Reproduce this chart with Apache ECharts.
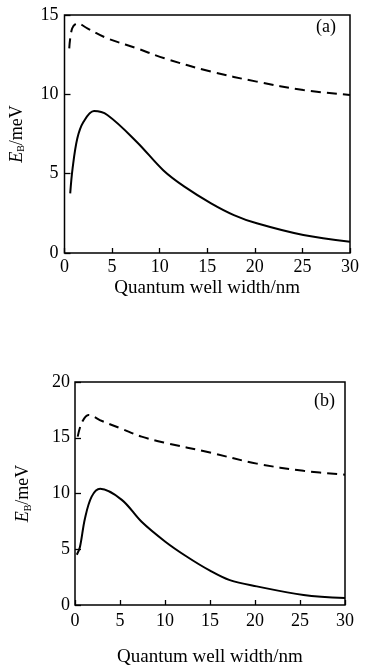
<!DOCTYPE html>
<html><head><meta charset="utf-8">
<script src="https://cdn.jsdelivr.net/npm/echarts@6/dist/echarts.min.js"></script>
<style>html,body{margin:0;padding:0;background:#fff}#c{width:369px;height:668px}</style>
</head><body><div id="c"></div>
<script>
// Panel (a)
const aDashX = [0.5, 0.8, 1.35, 2.4, 4.5, 7.6, 10.5, 15.4, 20.2, 25.1, 30];
const aDashY = [12.9, 14.15, 14.47, 14.16, 13.53, 12.9, 12.27, 11.43, 10.8, 10.27, 9.96];
const aSolidX = [0.6, 0.85, 1.35, 2.0, 3.1, 4.5, 7.6, 10.4, 12.6, 15.4, 17.8, 20.2, 25.1, 30];
const aSolidY = [3.76, 5.34, 7.23, 8.27, 8.95, 8.7, 7.0, 5.2, 4.18, 3.13, 2.39, 1.87, 1.13, 0.71];
// Panel (b)
const bDashX = [0.3, 0.75, 1.5, 3.0, 5.2, 7.4, 10, 15, 20.2, 25.4, 30];
const bDashY = [15.1, 16.35, 17.05, 16.5, 15.8, 15.1, 14.55, 13.67, 12.68, 12.03, 11.69];
const bSolidX = [0.2, 0.55, 1.1, 1.85, 2.8, 5.2, 7.4, 10, 12.4, 15, 17.2, 20.2, 25.4, 30];
const bSolidY = [4.5, 5.2, 7.74, 9.72, 10.42, 9.43, 7.46, 5.7, 4.35, 3.08, 2.23, 1.67, 0.9, 0.62];
const xTicks = [0, 5, 10, 15, 20, 25, 30];
const panelLabels = ['(a)', '(b)'];
const xName = 'Quantum well width/nm';

const pair = (xs, ys) => xs.map((x, i) => [x, ys[i]]);
const FONT = 'Liberation Serif';

const chart = echarts.init(document.getElementById('c'));
function xAxis(gi, gap, margin) {
  return {
    type: 'value', gridIndex: gi, min: 0, max: 30, interval: 5,
    name: xName, nameLocation: 'middle', nameGap: gap,
    nameTextStyle: {fontFamily: FONT, fontSize: 19, color: '#000'},
    axisLine: {show: false},
    axisTick: {show: true, inside: true, length: 5, lineStyle: {color: '#000', width: 1.3}},
    axisLabel: {fontFamily: FONT, fontSize: 18, color: '#000', margin: margin},
    splitLine: {show: false}
  };
}
function yAxis(gi, max, gap, margin) {
  return {
    type: 'value', gridIndex: gi, min: 0, max: max, interval: 5,
    name: '{i|E}{s|B}{n|/meV}', nameLocation: 'middle', nameGap: gap, nameRotate: 90,
    nameTextStyle: {
      rich: {
        i: {fontFamily: FONT, fontStyle: 'italic', fontSize: 18, color: '#000'},
        s: {fontFamily: FONT, fontSize: 10, color: '#000', verticalAlign: 'bottom', padding: [9, 0, 0, 0]},
        n: {fontFamily: FONT, fontSize: 18, color: '#000'}
      }
    },
    axisLine: {show: false},
    axisTick: {show: true, inside: true, length: 6, lineStyle: {color: '#000', width: 1.3}},
    axisLabel: {fontFamily: FONT, fontSize: 18, color: '#000', margin: margin},
    splitLine: {show: false}
  };
}
function line(gi, data, dashed) {
  return {
    type: 'line', xAxisIndex: gi, yAxisIndex: gi, data: data,
    showSymbol: false, smooth: 0.35,
    lineStyle: {color: '#000', width: 2, type: dashed ? [10, 6] : 'solid'}
  };
}
chart.setOption({
  animation: false,
  backgroundColor: '#fff',
  grid: [
    {left: 62, top: 15, width: 288, height: 238, show: true, borderColor: '#000', borderWidth: 1.5, backgroundColor: 'transparent'},
    {left: 75, top: 382, width: 270, height: 236, show: true, borderColor: '#000', borderWidth: 1.5, backgroundColor: 'transparent'}
  ],
  xAxis: [xAxis(0, 26, 5), xAxis(1, 43, 7)],
  yAxis: [yAxis(0, 15, 38, 6), yAxis(1, 20, 42, 5)],
  graphic: [
    {type: 'text', left: 316, top: 18, style: {text: panelLabels[0], font: '18px "Liberation Serif"', fill: '#000'}},
    {type: 'text', left: 314, top: 392, style: {text: panelLabels[1], font: '18px "Liberation Serif"', fill: '#000'}}
  ],
  series: [
    line(0, pair(aDashX, aDashY), true),
    line(0, pair(aSolidX, aSolidY), false),
    line(1, pair(bDashX, bDashY), true),
    line(1, pair(bSolidX, bSolidY), false)
  ]
});
</script>
</body></html>
